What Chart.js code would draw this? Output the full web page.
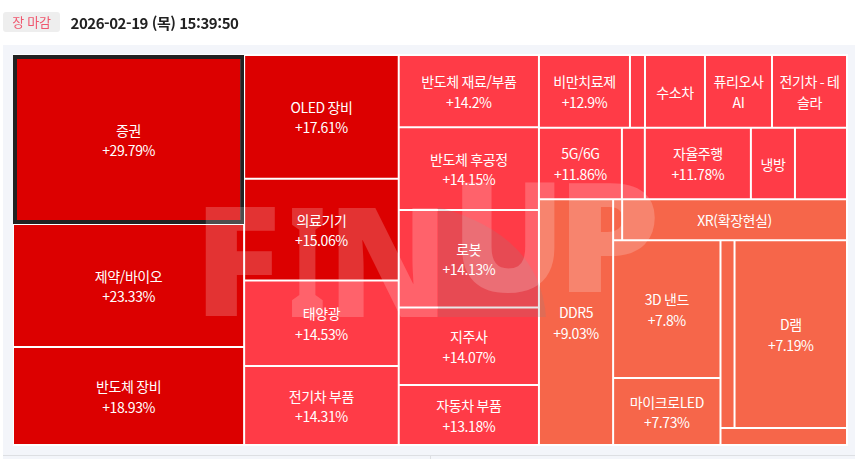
<!DOCTYPE html>
<html lang="ko">
<head>
<meta charset="utf-8">
<title>FINUP</title>
<style>
    html, body { margin: 0; padding: 0; background: #fff; overflow: hidden; }
    body { width: 855px; height: 459px; position: relative; font-family: "Noto Sans CJK KR", sans-serif; }
    .badge { position: absolute; left: 3px; top: 12px; width: 57px; height: 20px; line-height: 20px; background: #eeeeee; border-radius: 3px; color: #f0566e; font-size: 13px; text-align: center; letter-spacing: -0.2px; }
    .stamp { position: absolute; left: 70.5px; top: 12px; line-height: 22px; font-size: 15px; font-weight: 700; color: #222; letter-spacing: -0.45px; }
    .rule { position: absolute; left: 3px; right: 0; top: 455px; height: 1px; background: #dddfe3; }
    .tick { position: absolute; left: 430px; top: 456px; width: 1px; height: 3px; background: #dddfe3; }
    .chart-box { position: absolute; left: 0; top: 0; width: 855px; height: 459px; }
</style>
</head>
<body>
<div class="chart-box"><canvas id="treemap" width="855" height="459"></canvas></div>
<div class="rule"></div>
<div class="tick"></div>
<div class="badge">장 마감</div>
<div class="stamp">2026-02-19 (목) 15:39:50</div>

<script src="https://cdn.jsdelivr.net/npm/chart.js@4/dist/chart.umd.js"></script>
<script>
// Themes. Empty names are cells the site left unlabelled.
const names = [
    '증권', '제약/바이오', '반도체 장비',
    'OLED 장비', '의료기기', '태양광', '전기차 부품',
    '반도체 재료/부품', '반도체 후공정', '로봇', '지주사', '자동차 부품',
    '비만치료제', '', '수소차', '퓨리오사\nAI', '전기차 - 테\n슬라',
    '5G/6G', '', '자율주행', '냉방', '',
    'DDR5', '', 'XR(확장현실)', '3D 낸드', '마이크로LED', '', 'D램', ''
];
// Rises in %. Values of cells that show no number are estimates.
const changes = [
    29.79, 23.33, 18.93,
    17.61, 15.06, 14.53, 14.31,
    14.2, 14.15, 14.13, 14.07, 13.18,
    12.9, 12.6, 12.4, 12.2, 12.0,
    11.86, 11.8, 11.78, 11.6, 11.4,
    9.03, 8.6, 8.2, 7.8, 7.73, 7.4, 7.19, 7.0
];
// Cell size of each theme, estimated from its area in the picture
const weights = [
    390, 284, 226,
    191, 157, 132, 122,
    101, 116, 136.5, 108.5, 84,
    66, 10.9, 43.5, 48.6, 54.4,
    59.3, 16.4, 75.8, 31.5, 37.2,
    182, 3.7, 92.3, 147.7, 71.7, 26.3, 210.6, 21.6
];
// Themes whose cell shows the name only
const nameOnly = ['수소차', '퓨리오사\nAI', '전기차 - 테\n슬라', '냉방', 'XR(확장현실)'];
const selectedName = '증권';
// Nesting of the cells, the split direction alternates per level
const groups = [
    [0, 1, 2],
    [3, 4, 5, 6],
    [7, 8, 9, 10, 11],
    [
        [12, 13, 14, 15, 16],
        [17, 18, 19, 20, 21],
        [22, [[23, 24], [[25, 26], [[27, 28], 29]]]]
    ]
];

function colorOf(change) {
    if (change >= 15) return '#dc0000';
    if (change >= 10) return '#ff3b47';
    return '#f6664a';
}

function sumOf(node) {
    if (typeof node === 'number') return weights[node];
    return node.reduce((total, kid) => total + sumOf(kid), 0);
}

// Slice the unit square by weight, returns one rectangle per theme
function sliceCells(node, box, across, cells) {
    if (typeof node === 'number') {
        cells[node] = box;
        return cells;
    }
    const total = sumOf(node);
    let start = across ? box.x0 : box.y0;
    const span = across ? box.x1 - box.x0 : box.y1 - box.y0;
    node.forEach(kid => {
        const end = start + span * sumOf(kid) / total;
        const part = across
            ? { x0: start, x1: end, y0: box.y0, y1: box.y1 }
            : { x0: box.x0, x1: box.x1, y0: start, y1: end };
        sliceCells(kid, part, !across, cells);
        start = end;
    });
    return cells;
}

class TreemapController extends Chart.DatasetController {
    static id = 'treemap';
    static defaults = { dataElementType: 'bar' };

    getMinMax() {
        return { min: 0, max: 1 };
    }

    update(mode) {
        this.updateElements(this._cachedMeta.data, 0, this._cachedMeta.data.length, mode);
    }

    updateElements(rects, start, count, mode) {
        const { xScale, yScale } = this._cachedMeta;
        const data = this.getDataset().data;
        for (let i = start; i < start + count; i++) {
            const cell = data[i];
            const left = xScale.getPixelForValue(cell.x0);
            const right = xScale.getPixelForValue(cell.x1);
            const top = yScale.getPixelForValue(cell.y0);
            const bottom = yScale.getPixelForValue(cell.y1);
            this.updateElement(rects[i], i, {
                x: (left + right) / 2,
                y: top,
                base: bottom,
                width: right - left,
                height: bottom - top,
                horizontal: false,
                borderSkipped: {},
                enableBorderRadius: false,
                inflateAmount: 0,
                options: this.resolveDataElementOptions(i, mode)
            }, mode);
        }
    }
}
Chart.register(TreemapController);

// Panel behind the map. The canvas is opaque so its text renders like page text.
const backdrop = {
    id: 'backdrop',
    beforeDraw(chart) {
        const ctx = chart.ctx;
        const area = chart.chartArea;
        ctx.save();
        ctx.fillStyle = '#ffffff';
        ctx.fillRect(0, 0, chart.width, chart.height);
        ctx.fillStyle = '#f3f5fa';
        ctx.fillRect(3, 45, chart.width - 3, chart.height - 45);
        ctx.fillStyle = '#ffffff';
        ctx.fillRect(area.left, area.top - 1, area.width + 1, area.height + 2);
        ctx.restore();
    }
};

// One letter of the watermark, fitted to its box
function drawLetter(ctx, letter, left, right, top, bottom) {
    const m = ctx.measureText(letter);
    const inkWidth = m.actualBoundingBoxRight + m.actualBoundingBoxLeft;
    const inkHeight = m.actualBoundingBoxAscent + m.actualBoundingBoxDescent;
    ctx.save();
    ctx.translate(left, top);
    ctx.scale((right - left) / inkWidth, (bottom - top) / inkHeight);
    ctx.fillText(letter, m.actualBoundingBoxLeft, m.actualBoundingBoxAscent);
    ctx.restore();
}

const watermark = {
    id: 'watermark',
    afterDatasetsDraw(chart) {
        const ctx = chart.ctx;
        ctx.save();
        // grey swoosh behind the U
        ctx.fillStyle = 'rgba(133,133,133,0.2)';
        ctx.beginPath();
        ctx.moveTo(438, 207);
        ctx.quadraticCurveTo(540, 235, 546, 317);
        ctx.lineTo(438, 317);
        ctx.closePath();
        ctx.fill();

        ctx.fillStyle = 'rgba(255,255,255,0.2)';
        ctx.font = '900 154px "Noto Sans", sans-serif';
        ctx.textBaseline = 'alphabetic';
        ctx.textAlign = 'left';
        drawLetter(ctx, 'F', 205, 275, 207, 317);
        drawLetter(ctx, 'I', 292, 323, 207, 317);
        drawLetter(ctx, 'N', 338, 438, 207, 317);
        drawLetter(ctx, 'U', 462, 555, 182, 293);
        drawLetter(ctx, 'P', 568, 655, 182, 292);
        ctx.restore();
    }
};

const cellLabels = {
    id: 'cellLabels',
    afterDraw(chart) {
        const ctx = chart.ctx;
        const rects = chart.getDatasetMeta(0).data;
        ctx.save();
        ctx.fillStyle = '#ffffff';
        ctx.font = '14px "Noto Sans CJK KR", sans-serif';
        ctx.letterSpacing = '-0.4px';
        ctx.textAlign = 'center';
        ctx.textBaseline = 'middle';
        rects.forEach((rect, i) => {
            if (!names[i]) return;
            const lines = names[i].split('\n');
            if (!nameOnly.includes(names[i])) lines.push('+' + changes[i] + '%');
            const middle = rect.y + rect.height / 2 + 1;
            lines.forEach((line, n) => {
                ctx.fillText(line, rect.x, middle + (n - (lines.length - 1) / 2) * 20.5);
            });
        });
        ctx.restore();
    }
};

const cells = sliceCells(groups, { x0: 0, x1: 1, y0: 0, y1: 1 }, true, []);

document.fonts.load('14px "Noto Sans CJK KR"').finally(() => {
    const canvas = document.getElementById('treemap');
    canvas.getContext('2d', { alpha: false });
    new Chart(canvas, {
        type: 'treemap',
        data: {
            labels: names,
            datasets: [{
                data: cells,
                backgroundColor: changes.map(colorOf),
                borderColor: names.map(n => n === selectedName ? '#222222' : '#ffffff'),
                borderWidth: names.map(n => n === selectedName ? 4 : 1)
            }]
        },
        options: {
            responsive: false,
            animation: false,
            parsing: false,
            layout: { padding: { left: 13, right: 8, top: 55, bottom: 14 } },
            scales: {
                x: { type: 'linear', min: 0, max: 1, display: false },
                y: { type: 'linear', min: 0, max: 1, reverse: true, display: false }
            },
            plugins: { legend: { display: false }, tooltip: { enabled: false } }
        },
        plugins: [backdrop, watermark, cellLabels]
    });
});
</script>
</body>
</html>
